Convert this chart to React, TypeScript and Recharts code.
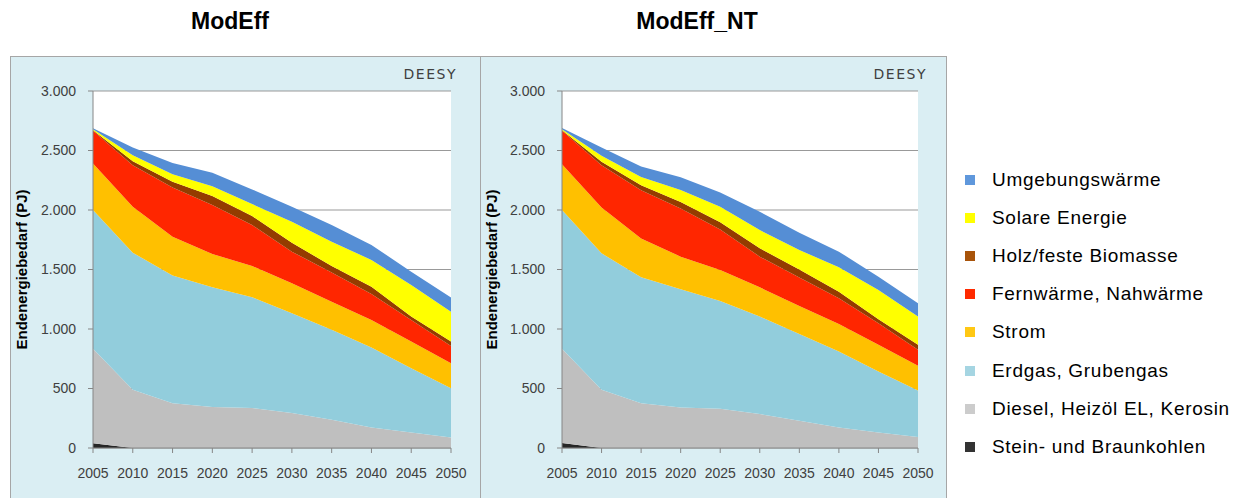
import { Area, AreaChart, CartesianGrid, XAxis, YAxis } from 'recharts'

const YEARS = ['2005', '2010', '2015', '2020', '2025', '2030', '2035', '2040', '2045', '2050']
const Y_TICKS = [0, 500, 1000, 1500, 2000, 2500, 3000]

// ModEff, PJ per carrier (stacked bottom -> top)
const effKohle = [40, 0, 0, 0, 0, 0, 0, 0, 0, 0]
const effDiesel = [793, 489, 377, 344, 336, 294, 238, 173, 131, 89]
const effErdgas = [1166, 1152, 1073, 1006, 931, 838, 755, 671, 540, 414]
const effStrom = [392, 386, 325, 280, 262, 252, 237, 232, 224, 210]
const effFern = [274, 350, 415, 411, 344, 266, 244, 219, 181, 145]
const effHolz = [5, 33, 47, 76, 76, 75, 55, 61, 28, 37]
const effSolar = [8, 50, 64, 83, 101, 176, 205, 224, 266, 251]
const effUmgeb = [9, 65, 95, 112, 123, 126, 139, 126, 112, 118]

// ModEff_NT
const ntKohle = [42, 0, 0, 0, 0, 0, 0, 0, 0, 0]
const ntDiesel = [791, 489, 377, 341, 330, 285, 229, 173, 131, 92]
const ntErdgas = [1166, 1147, 1057, 993, 906, 819, 730, 638, 512, 392]
const ntStrom = [386, 385, 327, 274, 260, 246, 235, 232, 224, 207]
const ntFern = [280, 356, 406, 405, 341, 258, 238, 215, 181, 134]
const ntHolz = [5, 28, 40, 55, 60, 70, 69, 56, 34, 42]
const ntSolar = [9, 50, 70, 100, 130, 153, 163, 204, 246, 237]
const ntUmgeb = [11, 70, 89, 107, 120, 154, 145, 132, 112, 112]

const SERIES = [
  { key: 'kohle', name: 'Stein- und Braunkohlen', fill: '#262626', swatch: '#333333' },
  { key: 'diesel', name: 'Diesel, Heizöl EL, Kerosin', fill: '#bfbfbf', swatch: '#cccccc' },
  { key: 'erdgas', name: 'Erdgas, Grubengas', fill: '#92cddc', swatch: '#a5d5e2' },
  { key: 'strom', name: 'Strom', fill: '#ffc000', swatch: '#ffc814' },
  { key: 'fern', name: 'Fernwärme, Nahwärme', fill: '#ff2600', swatch: '#ff2a00' },
  { key: 'holz', name: 'Holz/feste Biomasse', fill: '#943c00', swatch: '#a8540a' },
  { key: 'solar', name: 'Solare Energie', fill: '#ffff00', swatch: '#ffff00' },
  { key: 'umgeb', name: 'Umgebungswärme', fill: '#558ed5', swatch: '#5f98dc' },
]

const FONT = '"Liberation Sans", Arial, sans-serif'
const BG = '#daeef3'
const BORDER = '#a6a6a6'

function rows(v: Record<string, number[]>) {
  return YEARS.map((year, i) => {
    const r: Record<string, string | number> = { year }
    for (const s of SERIES) r[s.key] = v[s.key][i]
    return r
  })
}

const effData = rows({
  kohle: effKohle, diesel: effDiesel, erdgas: effErdgas, strom: effStrom,
  fern: effFern, holz: effHolz, solar: effSolar, umgeb: effUmgeb,
})
const ntData = rows({
  kohle: ntKohle, diesel: ntDiesel, erdgas: ntErdgas, strom: ntStrom,
  fern: ntFern, holz: ntHolz, solar: ntSolar, umgeb: ntUmgeb,
})

// German thousands separator: 1500 -> "1.500"
function fmt(v: number) {
  if (v < 1000) return String(v)
  return `${Math.floor(v / 1000)}.${String(v % 1000).padStart(3, '0')}`
}

function Panel({ data, left, width, axisW, right }: {
  data: Record<string, string | number>[]
  left: number
  width: number
  axisW: number
  right: number
}) {
  const tick = { fontSize: 14, fill: '#404040', fontFamily: FONT }
  return (
    <div style={{ position: 'absolute', left, top: 57, width, height: 441 }}>
      <AreaChart
        width={width}
        height={441}
        data={data}
        margin={{ top: 34, right, left: 0, bottom: 0 }}
      >
        <CartesianGrid vertical={false} stroke="#999" fill="#fff" />
        <XAxis
          dataKey="year"
          height={50}
          tick={tick}
          tickSize={5}
          tickMargin={15}
          stroke="#868686"
          interval={0}
        />
        <YAxis
          width={axisW}
          domain={[0, 3000]}
          ticks={Y_TICKS}
          tickFormatter={fmt}
          tick={tick}
          tickSize={5}
          tickMargin={12}
          stroke="#868686"
          label={{
            value: 'Endenergiebedarf (PJ)',
            angle: -90,
            position: 'insideLeft',
            offset: 12,
            style: { textAnchor: 'middle', fontSize: 15, fontWeight: 'bold', fill: '#000', fontFamily: FONT },
          }}
        />
        {SERIES.map(s => (
          <Area
            key={s.key}
            type="linear"
            dataKey={s.key}
            name={s.name}
            stackId="1"
            stroke="none"
            fill={s.fill}
            fillOpacity={1}
            isAnimationActive={false}
          />
        ))}
      </AreaChart>
    </div>
  )
}

export default function App() {
  const legend = [...SERIES].reverse()
  return (
    <div style={{ position: 'absolute', left: 0, top: 0, width: 1243, height: 498, background: '#fff', fontFamily: FONT, overflow: 'hidden' }}>
      <div style={{ position: 'absolute', left: 130, width: 200, top: 6, textAlign: 'center', fontSize: 23, fontWeight: 'bold', lineHeight: '30px' }}>
        ModEff
      </div>
      <div style={{ position: 'absolute', left: 597, width: 200, top: 6, textAlign: 'center', fontSize: 23, fontWeight: 'bold', lineHeight: '30px' }}>
        ModEff_NT
      </div>

      <div style={{ position: 'absolute', left: 10, top: 56, width: 937, height: 460, background: BG, border: `1px solid ${BORDER}`, boxSizing: 'border-box' }} />
      <div style={{ position: 'absolute', left: 480, top: 56, width: 1, height: 460, background: BORDER }} />

      <Panel data={effData} left={10} width={470} axisW={83} right={29} />
      <Panel data={ntData} left={480} width={466} axisW={82} right={28} />

      <div style={{ position: 'absolute', left: 380, width: 77, top: 64, textAlign: 'right', fontSize: 14, letterSpacing: 1.5, color: '#404040', fontFamily: '"DejaVu Sans", sans-serif', lineHeight: '20px' }}>
        DEESY
      </div>
      <div style={{ position: 'absolute', left: 849, width: 78, top: 64, textAlign: 'right', fontSize: 14, letterSpacing: 1.5, color: '#404040', fontFamily: '"DejaVu Sans", sans-serif', lineHeight: '20px' }}>
        DEESY
      </div>

      <div style={{ position: 'absolute', left: 965, top: 161 }}>
        {legend.map(s => (
          <div key={s.key} style={{ display: 'flex', alignItems: 'center', height: 38.1 }}>
            <span style={{ width: 10, height: 10, background: s.swatch, display: 'inline-block', marginRight: 17 }} />
            <span style={{ fontSize: 19, letterSpacing: 0.7, color: '#000', whiteSpace: 'nowrap' }}>{s.name}</span>
          </div>
        ))}
      </div>
    </div>
  )
}
